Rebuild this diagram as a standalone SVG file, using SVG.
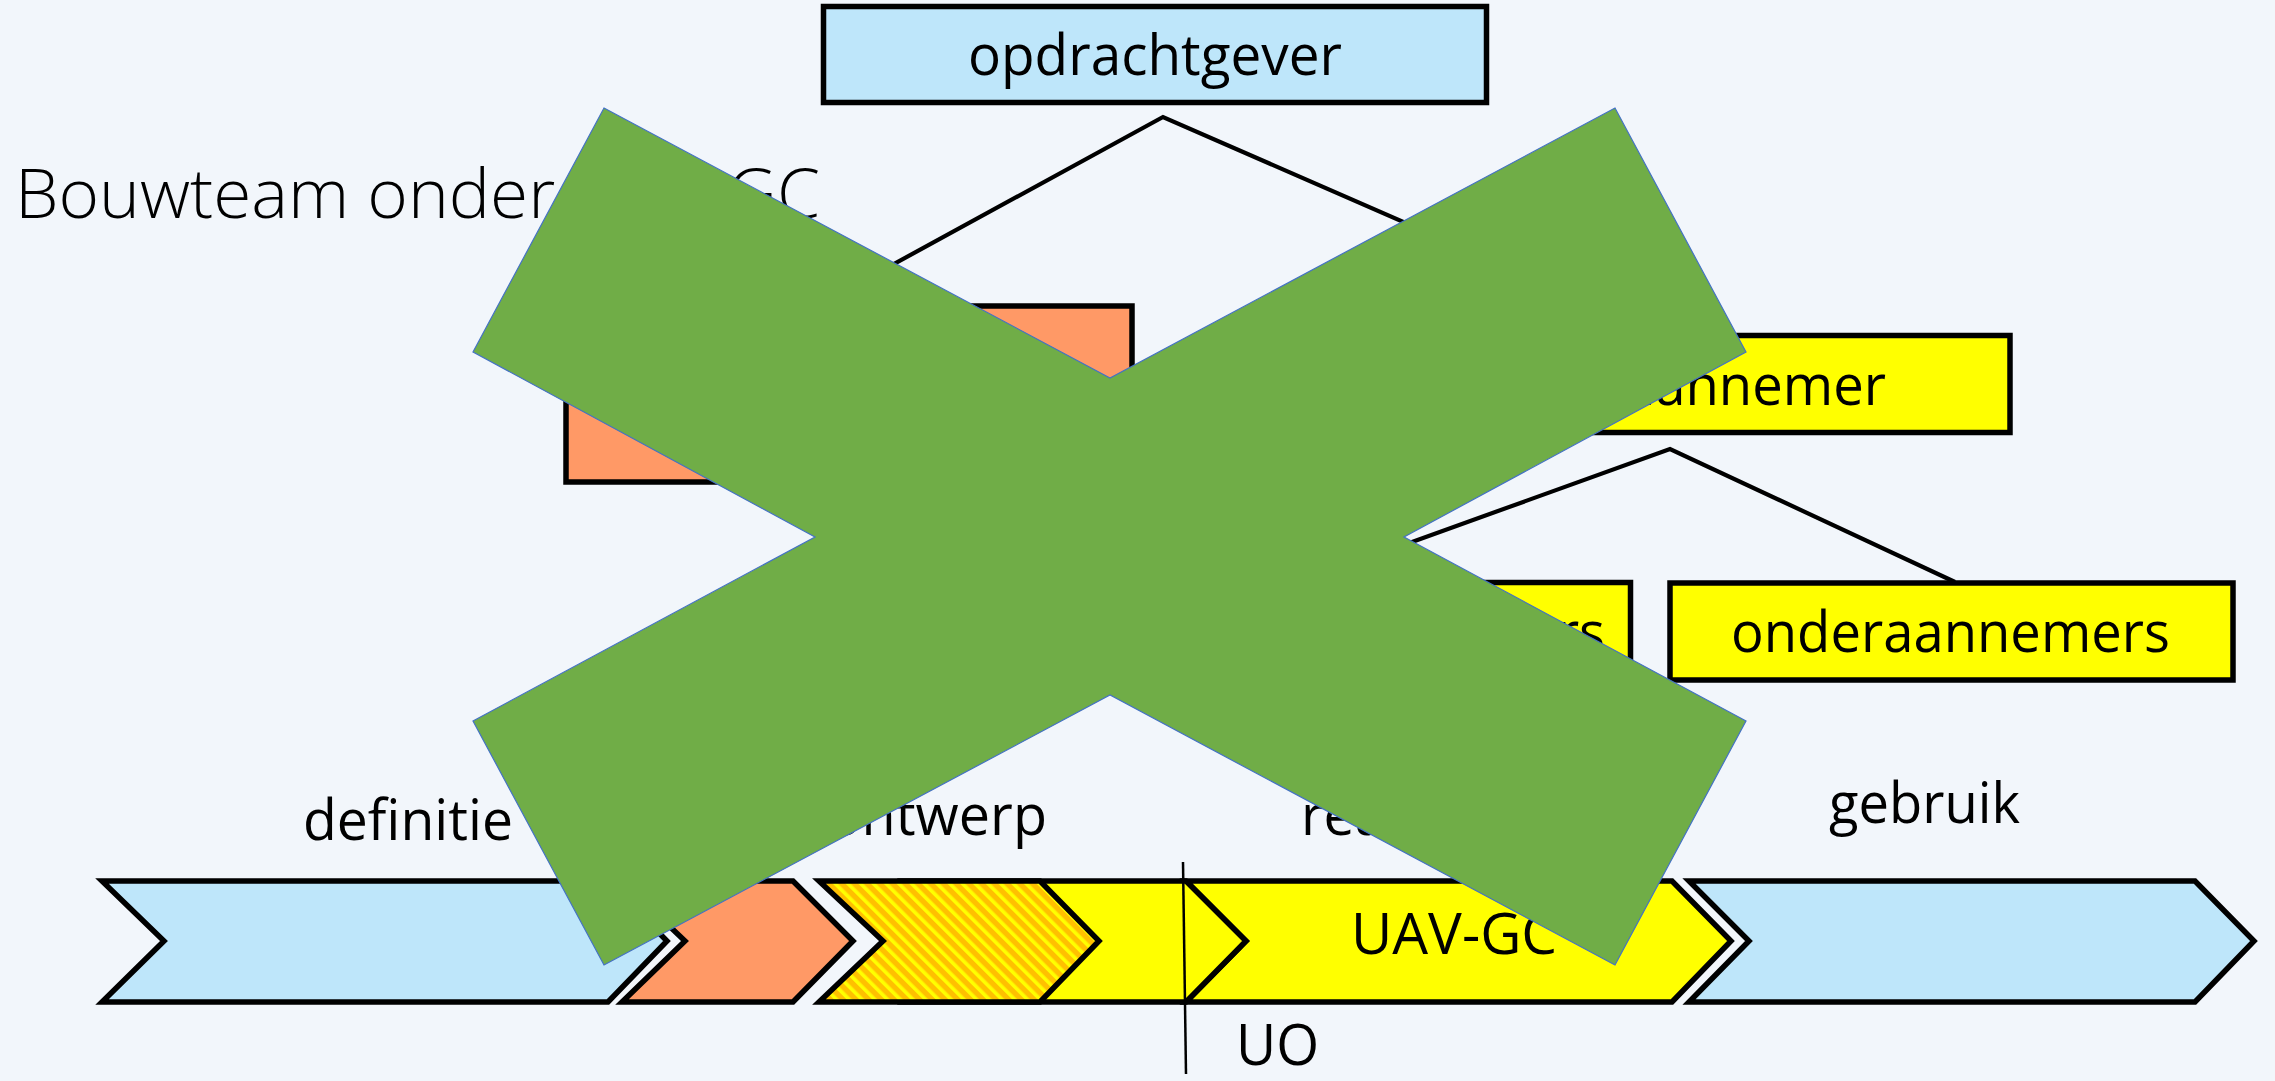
<svg xmlns="http://www.w3.org/2000/svg" width="2275" height="1081" viewBox="0 0 2275 1081">
<style>
.t{font-family:'Open Sans','Noto Sans','DejaVu Sans',sans-serif;font-size:57px;fill:#000}
.title{font-family:'Open Sans','Noto Sans','DejaVu Sans',sans-serif;font-size:68px;font-weight:300;fill:#000}
.box{stroke:#000;stroke-width:5.5}
.chev{stroke:#000;stroke-width:5.5;stroke-linejoin:miter}
.conn{fill:none;stroke:#000;stroke-width:4.2}
.blue{fill:#BEE6FA}
.yellow{fill:#FFFF00}
.orange{fill:#FF9966}
</style>
<defs>
<pattern id="hatch" patternUnits="userSpaceOnUse" width="9" height="9" patternTransform="rotate(-45)">
<rect width="9" height="9" fill="#FFC000"/>
<rect width="3.6" height="9" fill="#FFFF00"/>
</pattern>
</defs>
<rect width="2275" height="1081" fill="#F2F6FB"/>
<text class="title" x="15" y="218" textLength="805" lengthAdjust="spacingAndGlyphs">Bouwteam onder UAV-GC</text>
<g id="connectors">
<path class="conn" d="M817,306 L1163,117 L1660,334"/>
<path class="conn" d="M1301,582 L1670,449 L1955,582"/>
</g>
<g id="opdrachtgever">
<rect class="box blue" x="823.5" y="6.5" width="663" height="96"/>
<text class="t" x="968" y="75" textLength="374" lengthAdjust="spacingAndGlyphs">opdrachtgever</text>
</g>
<g id="ontwerper">
<rect class="box orange" x="566" y="306" width="566" height="176"/>
</g>
<g id="aannemer">
<rect class="box yellow" x="1348" y="335.5" width="662" height="97"/>
<text class="t" x="1625" y="405" textLength="261" lengthAdjust="spacingAndGlyphs">aannemer</text>
</g>
<g id="sub-left">
<rect class="box yellow" x="972" y="582.5" width="658.5" height="97"/>
<text class="t" x="1363" y="652" textLength="242" lengthAdjust="spacingAndGlyphs">adviseurs</text>
</g>
<g id="sub-right">
<rect class="box yellow" x="1670" y="583" width="563" height="97"/>
<text class="t" x="1731" y="652" textLength="439" lengthAdjust="spacingAndGlyphs">onderaannemers</text>
</g>
<g id="phases">
<path id="definitie" class="chev blue" d="M102,881 L608,881 L667,941 L608,1002 L102,1002 L164,941 Z"/>
<path id="ontwerp-fase" class="chev orange" d="M622,881 L793,881 L853,941 L793,1002 L622,1002 L685,941 Z"/>
<path id="uavgc" class="chev yellow" d="M1186,881 L1672,881 L1731,941 L1672,1002 L1186,1002 L1246,941 Z"/>
<path id="yellow-left" class="chev yellow" d="M900,881 L1186,881 L1246,941 L1186,1002 L900,1002 Z"/>
<path id="hatched" class="chev" fill="url(#hatch)" d="M819,881 L1040,881 L1099,941 L1040,1002 L819,1002 L883,941 Z"/>
<path id="gebruik" class="chev blue" d="M1689,881 L2195,881 L2254,941 L2195,1002 L1689,1002 L1749,941 Z"/>
<path id="uo-line" d="M1183,862 L1186,1074" stroke="#000" stroke-width="2.5" fill="none"/>
</g>
<g id="labels">
<text class="t" x="303" y="840" textLength="210" lengthAdjust="spacingAndGlyphs">definitie</text>
<text class="t" x="828" y="835" textLength="219" lengthAdjust="spacingAndGlyphs">ontwerp</text>
<text class="t" x="1301" y="835" textLength="234" lengthAdjust="spacingAndGlyphs">realisatie</text>
<text class="t" x="1829" y="823" textLength="191" lengthAdjust="spacingAndGlyphs">gebruik</text>
<text class="t" x="1351" y="954" textLength="206" lengthAdjust="spacingAndGlyphs">UAV-GC</text>
<text class="t" x="1236" y="1065" textLength="83" lengthAdjust="spacingAndGlyphs">UO</text>
</g>
<g id="cross">
<polygon points="604,108 1110,378 1615,108 1746,352 1404,537 1746,721 1615,965 1110,695 604,965 473,721 815,537 473,352" fill="#70AD47" stroke="#4472C4" stroke-width="1.2"/>
</g>
</svg>
